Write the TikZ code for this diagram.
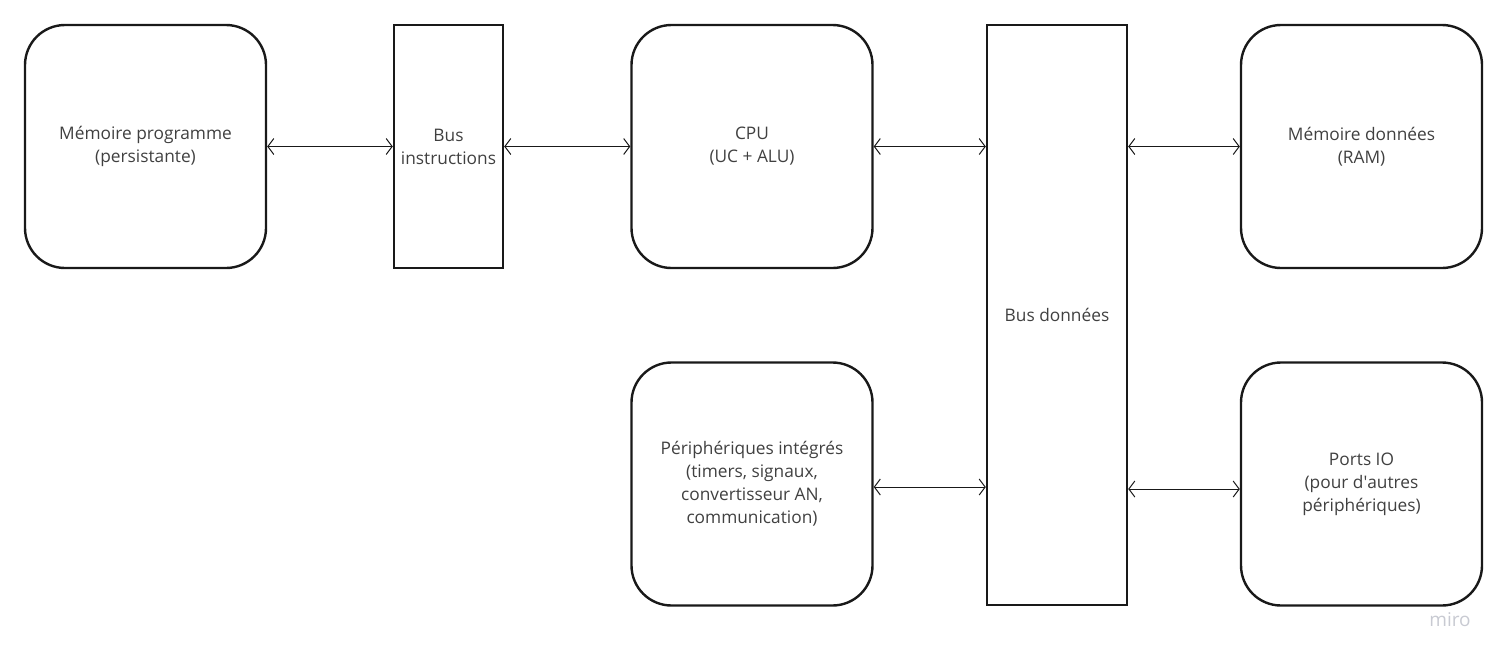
\documentclass[tikz,border=0pt]{standalone}
\usepackage{fontspec}
\setmainfont{Open Sans}
\usetikzlibrary{arrows.meta}
\definecolor{txt}{HTML}{404040}
\definecolor{wm}{HTML}{C8CAD2}
\tikzset{
  rbox/.style={draw=black!90, line width=2.4pt, rounded corners=40pt, minimum width=241pt, minimum height=243pt, align=center, text=txt, font=\fontsize{17.3}{23}\selectfont, inner sep=0pt},
  busbox/.style={draw=black!90, line width=2.4pt, align=center, text=txt, font=\fontsize{17.3}{23}\selectfont, inner sep=0pt},
  link/.style={line width=1pt, black!90, {Straight Barb[length=6pt,width=16pt]}-{Straight Barb[length=6pt,width=16pt]}}
}
\begin{document}
\begin{tikzpicture}[x=1pt,y=-1pt]
\useasboundingbox (0,0) rectangle (1508,662);
\node[rbox] (mp) at (145.5,146.5) {Mémoire programme\\(persistante)};
\node[busbox, minimum width=109pt, minimum height=243pt] (bi) at (448.5,146.5) {Bus\\instructions};
\node[rbox] (cpu) at (752,146.5) {CPU\\(UC + ALU)};
\node[busbox, minimum width=140pt, minimum height=580pt] (bd) at (1057,315) {Bus données};
\node[rbox] (ram) at (1361.5,146.5) {Mémoire données\\(RAM)};
\node[rbox] (per) at (752,484) {Périphériques intégrés\\(timers, signaux,\\convertisseur AN,\\communication)};
\node[rbox] (io) at (1361.5,484) {Ports IO\\(pour d\textquotesingle autres\\périphériques)};
\node[text=wm, font=\fontsize{19}{20}\selectfont] (miro) at (1450,620) {miro};
\draw[link] (mp.east) -- (bi.west);
\draw[link] (bi.east) -- (cpu.west);
\draw[link] (cpu.east) -- (cpu.east -| bd.west);
\draw[link] (ram.west) -- (ram.west -| bd.east);
\draw[link] ([yshift=-3pt]per.east) -- ([yshift=-3pt]per.east -| bd.west);
\draw[link] ([yshift=-5pt]io.west) -- ([yshift=-5pt]io.west -| bd.east);
\end{tikzpicture}
\end{document}
